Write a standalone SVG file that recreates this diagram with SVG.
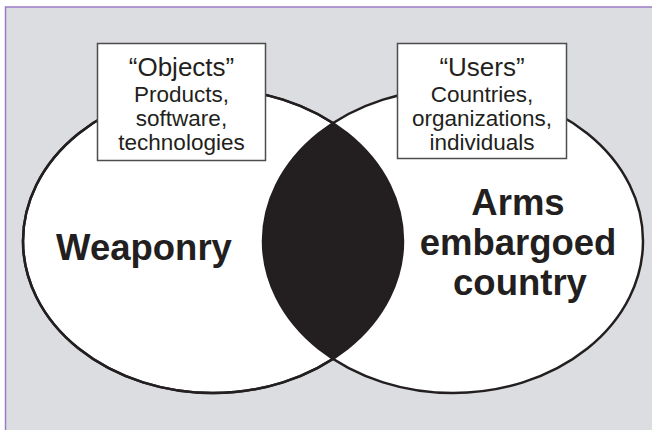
<svg xmlns="http://www.w3.org/2000/svg" width="652" height="430" viewBox="0 0 652 430">
  <style>
    .ring { fill: #ffffff; stroke: #231f20; stroke-width: 2.5; }
    .lens { fill: #231f20; }
    .box { fill: #ffffff; stroke: #4d4d4f; stroke-width: 1.5; }
    .head { font-family: "Liberation Sans", Arial, sans-serif; font-size: 26px; fill: #231f20; text-anchor: middle; }
    .sub { font-family: "Liberation Sans", Arial, sans-serif; font-size: 22.5px; fill: #231f20; text-anchor: middle; }
    .big { font-family: "Liberation Sans", Arial, sans-serif; font-size: 36.5px; font-weight: bold; fill: #231f20; text-anchor: middle; }
  </style>
  <defs>
    <clipPath id="leftClip">
      <ellipse cx="213" cy="241" rx="190" ry="152"/>
    </clipPath>
  </defs>

  <!-- panel -->
  <rect x="0" y="0" width="652" height="430" fill="#ffffff"/>
  <rect x="5.5" y="7" width="660" height="440" fill="#dcdde0" stroke="#9b7bc8" stroke-width="1.5"/>

  <!-- Weaponry set -->
  <g id="weaponry">
    <ellipse class="ring" cx="213" cy="241" rx="190" ry="152"/>
  </g>

  <!-- Arms embargoed country set -->
  <g id="embargoed">
    <ellipse class="ring" cx="453" cy="241" rx="190" ry="152"/>
  </g>

  <!-- overlap -->
  <g id="overlap">
    <ellipse class="lens" cx="453" cy="241" rx="190" ry="152" clip-path="url(#leftClip)"/>
    <ellipse cx="213" cy="241" rx="190" ry="152" fill="none" stroke="#231f20" stroke-width="2.5"/>
  </g>

  <g id="weaponry-label">
    <text class="big" x="144" y="260">Weaponry</text>
  </g>

  <g id="embargoed-label">
    <text class="big" x="518" y="215">Arms</text>
    <text class="big" x="518" y="255">embargoed</text>
    <text class="big" x="520" y="295">country</text>
  </g>

  <!-- Objects box -->
  <g id="objects">
    <rect class="box" x="97.5" y="43.5" width="168" height="117"/>
    <text class="head" x="181.5" y="76">“Objects”</text>
    <text class="sub" x="181.5" y="102">Products,</text>
    <text class="sub" x="181.5" y="126">software,</text>
    <text class="sub" x="181.5" y="150">technologies</text>
  </g>

  <!-- Users box -->
  <g id="users">
    <rect class="box" x="397.5" y="43.5" width="169" height="115"/>
    <text class="head" x="482" y="76">“Users”</text>
    <text class="sub" x="482" y="102">Countries,</text>
    <text class="sub" x="482" y="126">organizations,</text>
    <text class="sub" x="482" y="150">individuals</text>
  </g>

  <g id="connectors"></g>
</svg>
